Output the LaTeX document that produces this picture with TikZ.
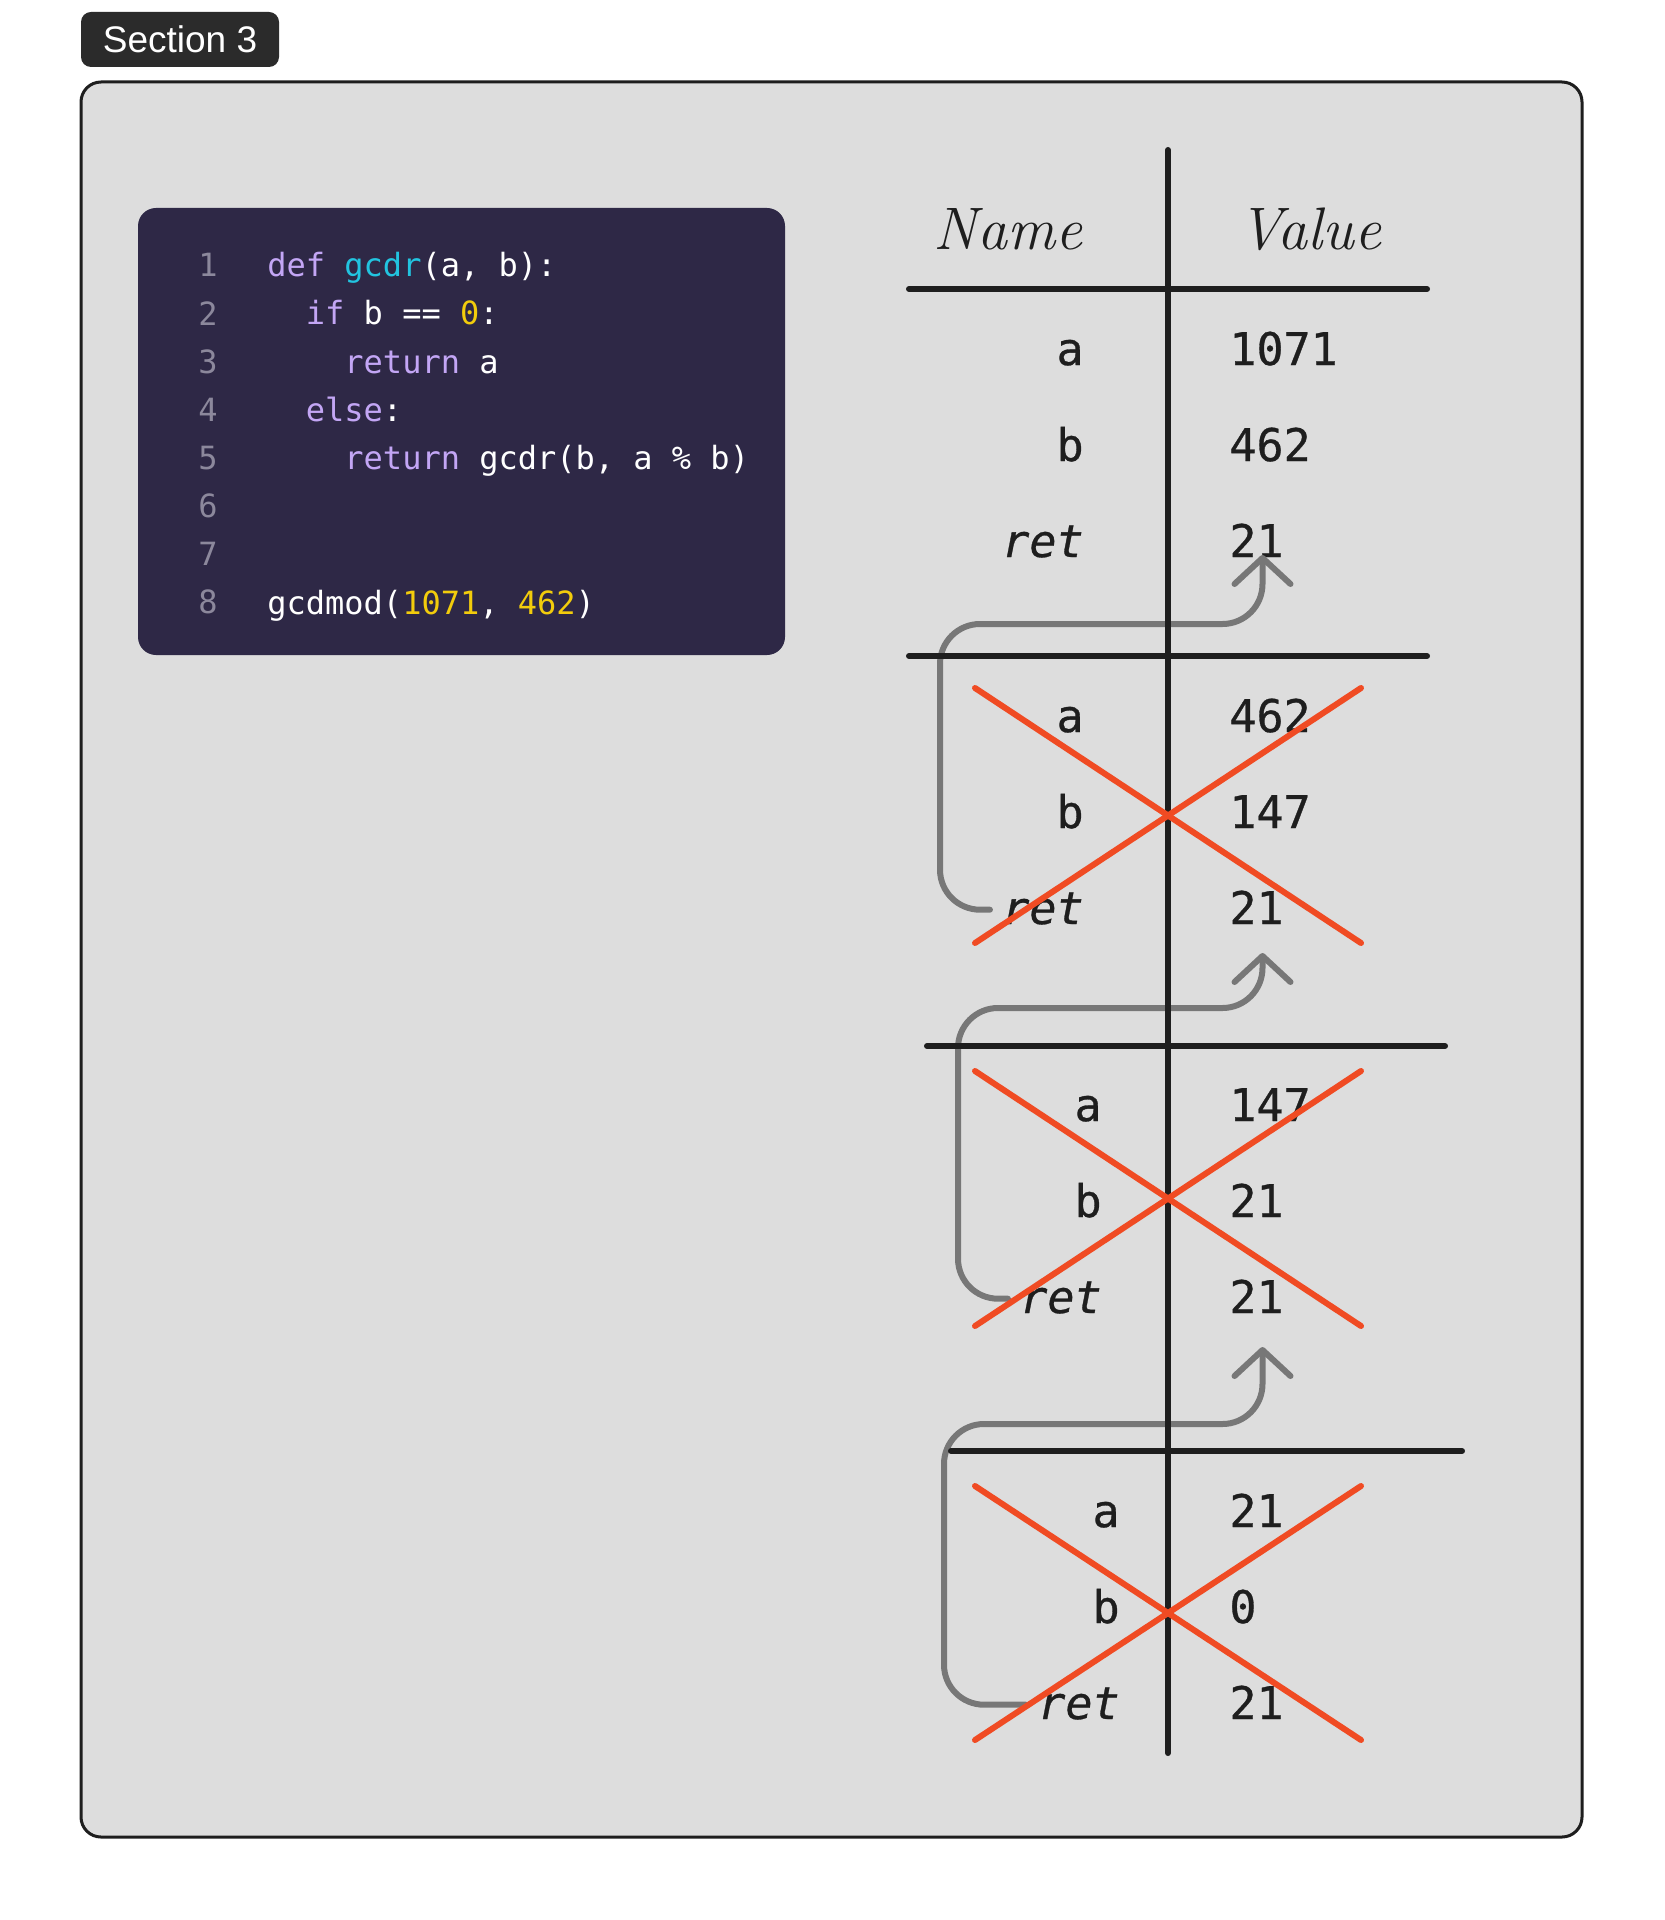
\documentclass[tikz,border=0pt]{standalone}
\usepackage{fontspec}
\setsansfont{Liberation Sans}
\setmonofont{DejaVu Sans Mono}
\newfontfamily\cellfont{DejaVu Sans Mono}[FakeBold=0.7]
\usetikzlibrary{arrows.meta}

\definecolor{panel}{HTML}{DDDDDD}
\definecolor{ink}{HTML}{1E1E1E}
\definecolor{tagbg}{HTML}{2B2B2B}
\definecolor{codebg}{HTML}{2E2846}
\definecolor{kw}{HTML}{C3A6F5}
\definecolor{fn}{HTML}{22C4E0}
\definecolor{num}{HTML}{F2CC0C}
\definecolor{lnum}{HTML}{8C889C}
\definecolor{xred}{HTML}{F04B23}
\definecolor{retgray}{HTML}{777777}

\begin{document}
\begin{tikzpicture}[x=0.5pt,y=-0.5pt,
  codeline/.style={anchor=base west,inner sep=0,text=white,font=\ttfamily\fontsize{16}{16}\selectfont},
  lineno/.style={anchor=base,inner sep=0,text=lnum,font=\ttfamily\fontsize{16}{16}\selectfont},
  head/.style={anchor=base,inner sep=0,text=ink,font=\itshape\fontsize{30}{30}\selectfont},
  cell/.style={inner sep=0,text=ink,font=\cellfont\fontsize{22.5}{22.5}\selectfont},
  tabrule/.style={ink,line width=3pt,line cap=round},
  strike/.style={xred,line width=3pt,line cap=round},
  retarrow/.style={retgray,line width=3pt,line cap=round,rounded corners=20pt,
    -{Straight Barb[length=13pt,width=28pt,round]}}]

\path[use as bounding box,fill=white] (0,0) rectangle (1664,1920);

% tag and frame
\node[fill=tagbg,rounded corners=5pt,minimum width=99pt,minimum height=27.5pt,
  text=white,font=\sffamily\fontsize{18.5}{18.5}\selectfont] (tag) at (180,39.5) {Section 3};
\draw[ink,line width=1.5pt,fill=panel,rounded corners=10pt] (81,82) rectangle (1582,1837);

% code
\fill[codebg,rounded corners=9pt] (138,208) rectangle (785,655);
\foreach \i in {1,...,8}
  \node[lineno] (n\i) at (208,{277+48.1*(\i-1)}) {\i};
\node[codeline] (l1) at (267,277) {\textcolor{kw}{def} \textcolor{fn}{gcdr}(a, b):};
\node[codeline] (l2) at (267,325) {~~\textcolor{kw}{if} b == \textcolor{num}{0}:};
\node[codeline] (l3) at (267,373) {~~~~\textcolor{kw}{return} a};
\node[codeline] (l4) at (267,421) {~~\textcolor{kw}{else}:};
\node[codeline] (l5) at (267,469) {~~~~\textcolor{kw}{return} gcdr(b, a \% b)};
\node[codeline] (l8) at (267,614) {gcdmod(\textcolor{num}{1071}, \textcolor{num}{462})};

% table
\node[head] (name) at (1008,250) {Name};
\node[head] (value) at (1310,250) {Value};

\foreach \g/\y/\x/\va/\vb/\vr in {1/365/1084/1071/462/21, 2/732/1084/462/147/21,
    3/1121/1102/147/21/21, 4/1527/1120/21/0/21}{
  \node[cell,anchor=base east] (a\g) at (\x,\y) {a};
  \node[cell,anchor=base east] (b\g) at (\x,{\y+96}) {b};
  \node[cell,anchor=base east] (r\g) at (\x,{\y+192}) {\itshape ret};
  \node[cell,anchor=base west] (va\g) at (1229,\y) {\va};
  \node[cell,anchor=base west] (vb\g) at (1229,{\y+96}) {\vb};
  \node[cell,anchor=base west] (vr\g) at (1229,{\y+192}) {\vr};
}

% return arrows
\draw[retarrow] ([shift={(-6pt,5pt)}]r2.mid west) -| (940,624) -| ([shift={(3pt,1pt)}]vr1.base);
\draw[retarrow] ([shift={(-6pt,5pt)}]r3.mid west) -| (958,1008) -| ([shift={(3pt,-14.5pt)}]vr2.base);
\draw[retarrow] ([shift={(-6pt,5pt)}]r4.mid west) -| (944,1424) -| ([shift={(3pt,-17pt)}]vr3.base);

\draw[tabrule] (1168,150) -- (1168,1753);
\foreach \y/\l/\r in {289/909/1427, 656/909/1427, 1046/927/1445, 1451/951/1462}
  \draw[tabrule] (\l,\y) -- (\r,\y);

% crossed out frames
\foreach \t/\b in {688/943, 1071/1326, 1486/1740}{
  \draw[strike] (975,\t) -- (1361,\b);
  \draw[strike] (975,\b) -- (1361,\t);
}
\end{tikzpicture}
\end{document}
